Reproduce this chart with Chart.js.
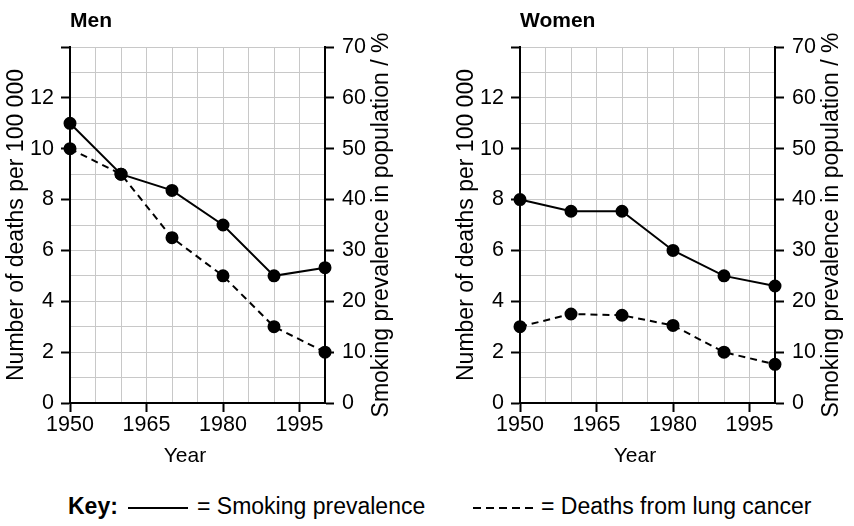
<!DOCTYPE html>
<html>
<head>
<meta charset="utf-8">
<script src="https://cdn.jsdelivr.net/npm/chart.js@4.4.0/dist/chart.umd.min.js"></script>
<style>
  body { margin: 0; width: 854px; height: 526px; background: #fff; position: relative; overflow: hidden;
         font-family: 'Liberation Sans', Arial, sans-serif; color: #000; }
  .panel { position: absolute; top: 0; width: 404px; height: 470px; }
  .key { position: absolute; top: 495px; font-size: 23px; line-height: 23px; white-space: nowrap; }
</style>
</head>
<body>
<div class="panel" style="left:0"><canvas id="men"></canvas></div>
<div class="panel" style="left:450px"><canvas id="women"></canvas></div>

<div class="key" style="left:68px"><b>Key:</b></div>
<svg class="key" style="left:128px;top:500px" width="60" height="16"><line x1="0" y1="8" x2="60" y2="8" stroke="#000" stroke-width="2"/></svg>
<div class="key" style="left:197px">= Smoking prevalence</div>
<svg class="key" style="left:473px;top:500px" width="60" height="16"><line x1="0" y1="8" x2="60" y2="8" stroke="#000" stroke-width="2" stroke-dasharray="8,5"/></svg>
<div class="key" style="left:541px">= Deaths from lung cancer</div>

<script>
// data
const years = [1950, 1960, 1970, 1980, 1990, 2000];
const menSmoking = [55, 45, 41.8, 35, 25, 26.6];     // %
const menDeaths = [10, 9, 6.5, 5, 3, 2];             // per 100 000
const womenSmoking = [40, 37.7, 37.7, 30, 25, 23];
const womenDeaths = [3, 3.5, 3.45, 3.05, 2, 1.52];

const xTickLabels = [1950, 1965, 1980, 1995];
const deathTickLabels = [0, 2, 4, 6, 8, 10, 12];
const smokingTickLabels = [0, 10, 20, 30, 40, 50, 60, 70];

const family = "'Liberation Sans', Arial, sans-serif";
Chart.defaults.font.family = family;
Chart.defaults.color = '#000';

const gridGrey = '#c8c8c8';

// panel title, x title and the right axis title (which reads bottom to top)
const panelText = {
  id: 'panelText',
  afterDraw(chart, args, opts) {
    const { ctx, chartArea } = chart;
    ctx.save();
    ctx.fillStyle = '#000';
    ctx.textBaseline = 'middle';
    ctx.font = 'bold 21px ' + family;
    ctx.textAlign = 'left';
    ctx.fillText(opts.title, chartArea.left, 21);
    ctx.font = '21px ' + family;
    ctx.textAlign = 'center';
    ctx.fillText(opts.xTitle, chartArea.left + 115, 456);
    ctx.translate(chartArea.right + 57, (chartArea.top + chartArea.bottom) / 2);
    ctx.rotate(-Math.PI / 2);
    ctx.font = '23px ' + family;
    ctx.fillText(opts.rightTitle, 0, 0);
    ctx.restore();
  }
};

function toPoints(values) {
  return years.map((y, i) => ({ x: y, y: values[i] }));
}

function makeChart(id, title, smoking, deaths) {
  new Chart(document.getElementById(id), {
    type: 'line',
    data: {
      datasets: [
        {
          label: 'Smoking prevalence',
          data: toPoints(smoking),
          yAxisID: 'yRight',
          borderColor: '#000',
          backgroundColor: '#000',
          borderWidth: 2,
          pointRadius: 5.5,
          clip: false
        },
        {
          label: 'Deaths from lung cancer',
          data: toPoints(deaths),
          yAxisID: 'yLeft',
          borderColor: '#000',
          backgroundColor: '#000',
          borderWidth: 2,
          borderDash: [7, 5],
          pointRadius: 5.5,
          clip: false
        }
      ]
    },
    options: {
      responsive: true,
      maintainAspectRatio: false,
      animation: false,
      layout: { padding: { top: 47, left: 0, right: 0, bottom: 0 } },
      plugins: {
        legend: { display: false },
        tooltip: { enabled: false },
        panelText: { title: title, xTitle: 'Year', rightTitle: 'Smoking prevalence in population / %' }
      },
      scales: {
        x: {
          type: 'linear',
          min: 1950,
          max: 2000,
          afterFit: s => { s.height = 67; },
          ticks: {
            stepSize: 5,
            autoSkip: false,
            maxRotation: 0,
            padding: 0,
            font: { size: 21.5 },
            callback: v => xTickLabels.includes(v) ? String(v) : ''
          },
          grid: {
            color: gridGrey,
            tickLength: 9,
            tickWidth: 2,
            tickColor: c => (c.tick && xTickLabels.includes(c.tick.value)) ? '#000' : 'rgba(0,0,0,0)'
          },
          border: { color: '#000', width: 2 }
        },
        yLeft: {
          position: 'left',
          min: 0,
          max: 14,
          afterFit: s => { s.width = 70; },
          ticks: {
            stepSize: 1,
            autoSkip: false,
            padding: 7,
            font: { size: 21.5 },
            callback: v => deathTickLabels.includes(v) ? String(v) : ''
          },
          grid: {
            color: gridGrey,
            tickLength: 9,
            tickWidth: 2,
            tickColor: c => (c.tick && c.tick.value % 2 === 0) ? '#000' : 'rgba(0,0,0,0)'
          },
          border: { color: '#000', width: 2 },
          title: {
            display: true,
            text: 'Number of deaths per 100 000',
            font: { size: 23 },
            padding: { top: 3, bottom: 0 }
          }
        },
        yRight: {
          position: 'right',
          min: 0,
          max: 70,
          afterFit: s => { s.width = 79; },
          ticks: {
            stepSize: 10,
            padding: 8,
            font: { size: 21.5 },
            callback: v => smokingTickLabels.includes(v) ? String(v) : ''
          },
          grid: {
            drawOnChartArea: false,
            tickLength: 9,
            tickWidth: 2,
            tickColor: '#000'
          },
          border: { color: '#000', width: 2 }
        }
      }
    },
    plugins: [panelText]
  });
}

makeChart('men', 'Men', menSmoking, menDeaths);
makeChart('women', 'Women', womenSmoking, womenDeaths);
</script>
</body>
</html>
